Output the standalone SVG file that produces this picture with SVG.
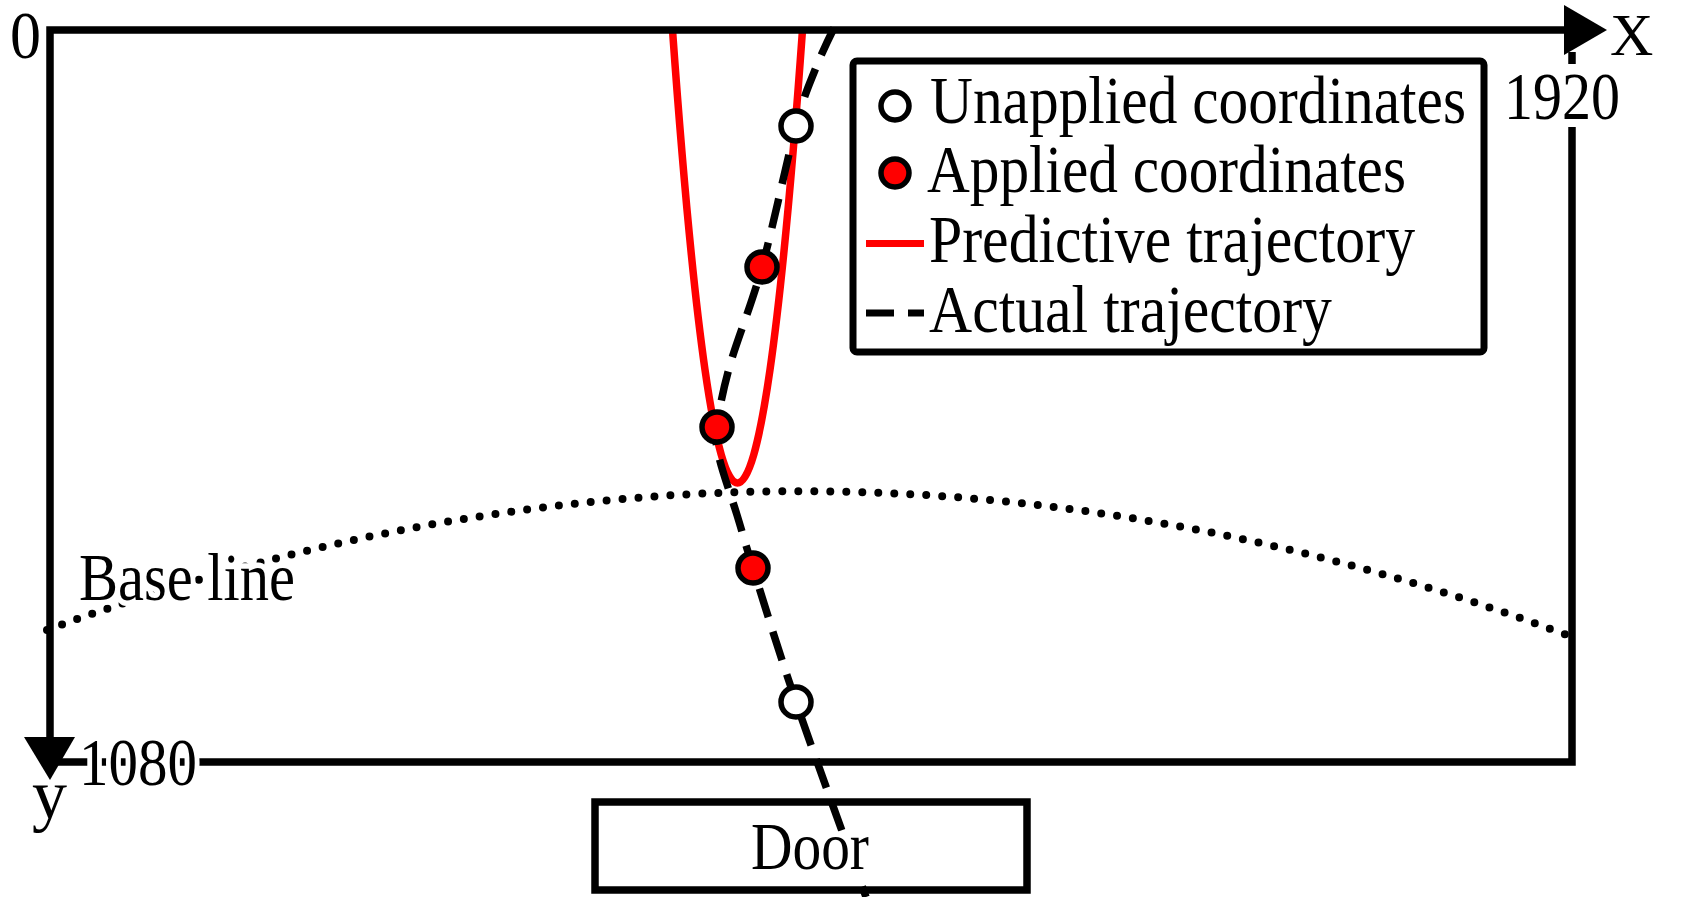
<svg xmlns="http://www.w3.org/2000/svg" width="1687" height="897" viewBox="0 0 1687 897">
<style>
.t{font-family:"Liberation Serif","Times New Roman",serif;font-size:68px;fill:#000}
.halo{stroke:#fff;stroke-width:11;stroke-linejoin:round;paint-order:stroke}
.ax{fill:none;stroke:#000;stroke-width:7.5;stroke-linejoin:miter}
.pred{fill:none;stroke:#f00;stroke-width:7.5}
.act{fill:none;stroke:#000;stroke-width:7.5;stroke-dasharray:30 15}
.base{fill:none;stroke:#000;stroke-width:8;stroke-linecap:round;stroke-dasharray:0 16}
.un{fill:#fff;stroke:#000;stroke-width:5.5}
.ap{fill:#f00;stroke:#000;stroke-width:5.5}
</style>
<rect width="1687" height="897" fill="#fff"/>
<g id="connectors">
  <path id="baseline-curve" class="base" d="M47,630 Q807,350 1567,635"/>
  <path id="predictive" class="pred" d="M672.5,30 Q737.5,936 802.5,30"/>
  <path id="actual" class="act" d="M834,28 C831,34 821.7,53 815,70 C808.3,87 804.8,93.2 796,126 C787.2,158.8 773,227.2 762,267 C751,306.8 737.5,338.3 730,365 C722.5,391.7 718.8,411.7 717,427 C715.2,442.3 715.7,442.3 719,457 C722.3,471.7 731.3,496.5 737,515 C742.7,533.5 743.2,536.8 753,568 C762.8,599.2 777.2,647.2 796,702 C814.8,756.8 854.3,864.5 866,897"/>
</g>
<g id="points">
  <circle class="un" cx="796" cy="126" r="15"/>
  <circle class="ap" cx="762" cy="267" r="15"/>
  <circle class="ap" cx="717" cy="427" r="15"/>
  <circle class="ap" cx="753" cy="568" r="15"/>
  <circle class="un" cx="796" cy="702" r="15"/>
</g>
<g id="axes">
  <path class="ax" d="M1566,30 H50 V742"/>
  <path class="ax" d="M54,762 H1572 V52"/>
  <polygon points="1564,5 1607,30 1564,55" fill="#000"/>
  <polygon points="24,737 75,737 50,780" fill="#000"/>
  <text class="t" x="10" y="58" textLength="31" lengthAdjust="spacingAndGlyphs">0</text>
  <text class="t" x="1610" y="55" style="font-size:60px">X</text>
  <rect x="1502" y="64" width="122" height="63" fill="#fff"/>
  <text class="t" x="1504" y="119" textLength="116" lengthAdjust="spacingAndGlyphs">1920</text>
  <text class="t halo" x="79" y="785" textLength="118" lengthAdjust="spacingAndGlyphs">1080</text>
  <text class="t" x="32" y="818" style="font-size:70px">y</text>
</g>
<g id="baseline-label">
  <text class="t halo" x="79" y="600" textLength="216" lengthAdjust="spacingAndGlyphs">Base line</text>
</g>
<g id="legend">
  <rect x="853" y="61" width="631" height="291" rx="4" fill="#fff" stroke="#000" stroke-width="7"/>
  <circle class="un" cx="895" cy="106" r="14"/>
  <text class="t" x="930" y="123" textLength="536" lengthAdjust="spacingAndGlyphs">Unapplied coordinates</text>
  <circle class="ap" cx="895" cy="173" r="14"/>
  <text class="t" x="927" y="192" textLength="479" lengthAdjust="spacingAndGlyphs">Applied coordinates</text>
  <line x1="866" y1="243.5" x2="924" y2="243.5" stroke="#f00" stroke-width="7"/>
  <text class="t" x="929" y="262" textLength="486" lengthAdjust="spacingAndGlyphs">Predictive trajectory</text>
  <line x1="866" y1="313" x2="924" y2="313" stroke="#000" stroke-width="7" stroke-dasharray="28 14"/>
  <text class="t" x="929" y="332" textLength="403" lengthAdjust="spacingAndGlyphs">Actual trajectory</text>
</g>
<g id="door">
  <rect x="595" y="802" width="432" height="88" fill="none" stroke="#000" stroke-width="7.5"/>
  <text class="t halo" x="751" y="869" textLength="118" lengthAdjust="spacingAndGlyphs">Door</text>
</g>
</svg>
